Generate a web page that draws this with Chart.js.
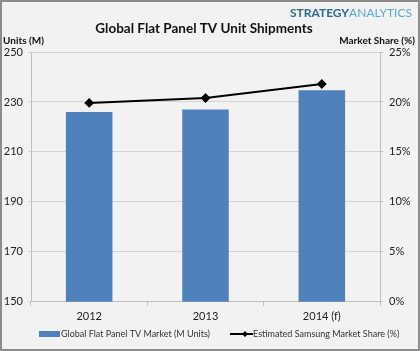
<!DOCTYPE html>
<html>
<head>
<meta charset="utf-8">
<script src="https://cdn.jsdelivr.net/npm/chart.js@4/dist/chart.umd.min.js"></script>
<style>
  body { margin: 0; background: #fff; }
  #wrap { position: relative; width: 420px; height: 351px; }
</style>
</head>
<body>
<div id="wrap"><canvas id="tvChart" width="420" height="351"></canvas></div>
<script>
// chart data
const years = ['2012', '2013', '2014 (f)'];
const unitShipments = [226, 227, 234.7];
const samsungShare = [19.9, 20.4, 21.8];
const unitTicks = [150, 170, 190, 210, 230, 250];
const shareTicks = [0, 5, 10, 15, 20, 25];

const FONT = 'Lato';
const tickFont = { family: FONT, size: 11 };

// background, border, header texts and the legend
const decorations = {
    id: 'decorations',
    beforeDraw(chart) {
        const c = chart.ctx;
        c.save();
        c.fillStyle = '#f2f2f2';
        c.fillRect(0, 0, chart.width, chart.height);
        c.strokeStyle = '#8c8c8c';
        c.lineWidth = 2;
        c.strokeRect(1, 1, chart.width - 2, chart.height - 2);
        c.restore();
    },
    afterDraw(chart) {
        const c = chart.ctx;
        c.save();
        c.textBaseline = 'middle';
        // logo
        c.font = `bold 12px ${FONT}`;
        const w1 = c.measureText('STRATEGY').width;
        c.font = `12px ${FONT}`;
        const w2 = c.measureText('ANALYTICS').width;
        const x = 412 - w1 - w2;
        c.textAlign = 'left';
        c.font = `bold 12px ${FONT}`;
        c.fillStyle = '#2a6b8c';
        c.fillText('STRATEGY', x, 13);
        c.font = `12px ${FONT}`;
        c.fillStyle = '#5aa9c8';
        c.fillText('ANALYTICS', x + w1, 13);
        // title
        c.font = `bold 13.5px ${FONT}`;
        c.fillStyle = '#111';
        c.textAlign = 'center';
        c.fillText('Global Flat Panel TV Unit Shipments', 204, 29);
        // axis titles
        c.font = `bold 10px ${FONT}`;
        c.textAlign = 'left';
        c.fillText('Units (M)', 3, 41);
        c.textAlign = 'right';
        c.fillText('Market Share (%)', 415, 41);
        // legend
        const bar = chart.data.datasets[1];
        const line = chart.data.datasets[0];
        const ly = 334;
        c.font = `9px ${FONT}`;
        c.textAlign = 'left';
        c.fillStyle = bar.backgroundColor;
        c.fillRect(39, ly - 3, 21, 6);
        c.fillStyle = '#333';
        c.fillText(bar.label, 61, ly);
        c.strokeStyle = line.borderColor;
        c.lineWidth = 2;
        c.beginPath();
        c.moveTo(230, ly);
        c.lineTo(253, ly);
        c.stroke();
        c.fillStyle = '#000';
        c.beginPath();
        c.moveTo(245, ly - 3);
        c.lineTo(248, ly);
        c.lineTo(245, ly + 3);
        c.lineTo(242, ly);
        c.closePath();
        c.fill();
        c.fillStyle = '#333';
        c.fillText(line.label, 253, ly);
        c.restore();
    }
};

new Chart(document.getElementById('tvChart'), {
    data: {
        labels: years,
        datasets: [
            {
                type: 'line',
                label: 'Estimated Samsung Market Share (%)',
                data: samsungShare,
                yAxisID: 'y1',
                borderColor: '#000',
                backgroundColor: '#000',
                borderWidth: 2,
                pointStyle: 'rectRot',
                pointRadius: 3.5,
                pointBackgroundColor: '#000',
                tension: 0,
                order: 0
            },
            {
                type: 'bar',
                label: 'Global Flat Panel TV Market (M Units)',
                data: unitShipments,
                yAxisID: 'y',
                backgroundColor: '#4f81bd',
                borderWidth: 0,
                categoryPercentage: 1,
                barPercentage: 0.4,
                order: 1
            }
        ]
    },
    options: {
        responsive: false,
        animation: false,
        layout: { padding: { top: 52, right: 0, left: 0, bottom: 24 } },
        plugins: {
            title: { display: false },
            legend: { display: false },
            tooltip: { enabled: false }
        },
        scales: {
            x: {
                grid: { offset: true, drawOnChartArea: false, tickLength: 4, color: '#bfbfbf' },
                border: { color: '#bfbfbf' },
                ticks: { color: '#222', font: tickFont, padding: 4 }
            },
            y: {
                position: 'left',
                min: 150,
                max: 250,
                afterFit(scale) { scale.width = 31; },
                afterBuildTicks(scale) { scale.ticks = unitTicks.map(v => ({ value: v })); },
                grid: { color: '#d4d4d4', tickLength: 3 },
                border: { color: '#bfbfbf' },
                ticks: { color: '#222', font: tickFont, padding: 5 }
            },
            y1: {
                position: 'right',
                min: 0,
                max: 25,
                afterFit(scale) { scale.width = 40; },
                afterBuildTicks(scale) { scale.ticks = shareTicks.map(v => ({ value: v })); },
                grid: { drawOnChartArea: false, color: '#bfbfbf', tickLength: 3 },
                border: { color: '#bfbfbf' },
                ticks: { color: '#222', font: tickFont, padding: 6, callback: v => v + '%' }
            }
        }
    },
    plugins: [decorations]
});
</script>
</body>
</html>
